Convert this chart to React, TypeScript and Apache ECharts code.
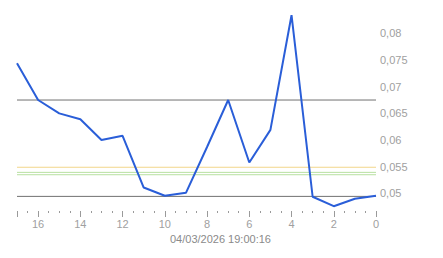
import React, { useEffect, useRef } from "react";
import * as echarts from "echarts";

const xValues = [17, 16, 15, 14, 13, 12, 11, 10, 9, 8, 7, 6, 5, 4, 3, 2, 1, 0];
const yValues = [0.0744, 0.0675, 0.065, 0.0639, 0.06, 0.0608, 0.0511, 0.04955, 0.0501, 0.0587, 0.0675, 0.0558, 0.0619, 0.0834, 0.04937, 0.0476, 0.049, 0.04955];
const refValues = [0.0675, 0.04944, 0.0549, 0.05394, 0.0535];
const refColors = ["#707070", "#707070", "#f2d68a", "#b8e0a0", "#b8e0a0"];
const xExtent = [0, 17];
const yLabelValues = [0.05, 0.055, 0.06, 0.065, 0.07, 0.075, 0.08];
const titleText = "04/03/2026 19:00:16";

export default function App() {
  const ref = useRef<HTMLDivElement>(null);
  useEffect(() => {
    const chart = echarts.init(ref.current!, null, { renderer: "svg" });
    const refSeries = refValues.map((v, i) => ({
      type: "line",
      data: xExtent.map((x) => [x, v]),
      showSymbol: false,
      silent: true,
      lineStyle: { color: refColors[i], width: 1 },
      itemStyle: { color: refColors[i] },
      z: 1,
    }));
    chart.setOption({
      animation: false,
      backgroundColor: "#ffffff",
      title: {
        text: titleText,
        left: 170,
        top: 233,
        textStyle: { fontFamily: "Liberation Sans", fontSize: 11, fontWeight: "normal", color: "#8a8a8a" },
        padding: 0,
      },
      grid: { left: 17, right: 67, top: 12, bottom: 47 },
      xAxis: {
        type: "value",
        inverse: true,
        min: xExtent[0],
        max: xExtent[1],
        interval: 2,
        axisLine: { show: false },
        splitLine: { show: false },
        axisTick: { show: true, length: 6, lineStyle: { color: "#9a9a9a" } },
        minorTick: { show: true, splitNumber: 4, length: 2, lineStyle: { color: "#9a9a9a" } },
        minorSplitLine: { show: false },
        axisLabel: { color: "#a0a0a0", fontFamily: "Liberation Sans", fontSize: 11, margin: 7, showMaxLabel: false },
      },
      yAxis: {
        type: "value",
        position: "right",
        min: 0.0467,
        max: 0.084,
        axisLine: { show: false },
        axisTick: { show: false },
        splitLine: { show: false },
        axisLabel: {
          customValues: yLabelValues,
          color: "#a0a0a0",
          fontFamily: "Liberation Sans",
          fontSize: 11,
          margin: 4,
          formatter: (v: number) => String(+v.toFixed(4)).replace(".", ","),
        },
      },
      series: [
        ...refSeries,
        {
          type: "line",
          data: xValues.map((x, i) => [x, yValues[i]]),
          showSymbol: false,
          lineStyle: { color: "#2a5ed8", width: 2 },
          itemStyle: { color: "#2a5ed8" },
          z: 3,
        },
      ],
    });
    return () => chart.dispose();
  }, []);
  return <div ref={ref} style={{ width: 443, height: 258, position: "absolute", left: 0, top: 0 }} />;
}
